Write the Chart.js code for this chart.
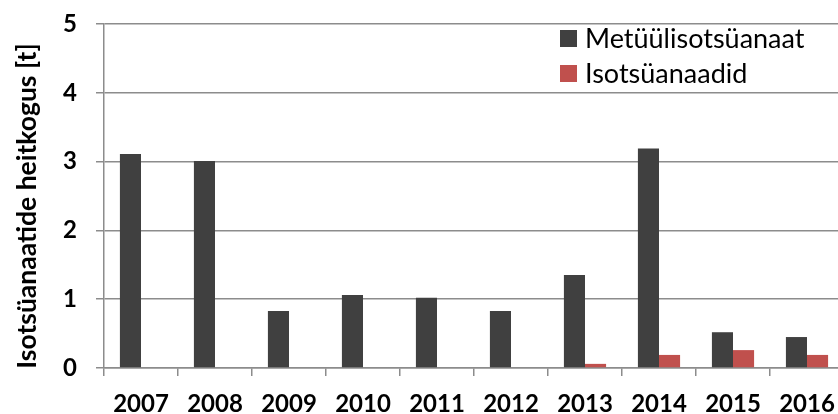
<!DOCTYPE html>
<html>
<head>
<meta charset="utf-8">
<script src="https://cdn.jsdelivr.net/npm/chart.js@4.4.0/dist/chart.umd.min.js"></script>
<style>
  html, body { margin: 0; padding: 0; background: #fff; overflow: hidden; }
  #wrap { width: 846px; height: 414px; position: relative; }
</style>
</head>
<body>
<div id="wrap"><canvas id="c" width="846" height="414"></canvas></div>
<script>
// Annual isocyanate emissions, tonnes
const years = ['2007', '2008', '2009', '2010', '2011', '2012', '2013', '2014', '2015', '2016'];
const metyylisotsyanaat = [3.11, 3.01, 0.83, 1.06, 1.02, 0.83, 1.35, 3.19, 0.52, 0.45];
const isotsyanaadid = [0, 0, 0, 0, 0, 0, 0.06, 0.19, 0.26, 0.19];
const seriesNames = ['Metüülisotsüanaat', 'Isotsüanaadid'];
const yTicks = [0, 1, 2, 3, 4, 5];
const yTitle = 'Isotsüanaatide heitkogus [t]';

const GRID = '#8c8c8c';
const FONT = 'Lato, "Open Sans", sans-serif';

// Legend drawn inside the plot area, top right, stacked vertically
const insideLegend = {
  id: 'insideLegend',
  afterDraw(chart) {
    const ctx = chart.ctx;
    ctx.save();
    ctx.font = '27px ' + FONT;
    ctx.textBaseline = 'middle';
    ctx.textAlign = 'left';
    chart.data.datasets.forEach((ds, i) => {
      const cy = 38.5 + i * 35;
      ctx.fillStyle = ds.backgroundColor;
      ctx.fillRect(560, cy - 8.5, 17, 17);
      ctx.fillStyle = '#000';
      ctx.fillText(ds.label, 585, cy + 1);
    });
    ctx.restore();
  }
};

// Rotated y-axis title
const yTitlePlugin = {
  id: 'yTitlePlugin',
  afterDraw(chart) {
    const ctx = chart.ctx;
    ctx.save();
    ctx.translate(27, 206);
    ctx.rotate(-Math.PI / 2);
    ctx.font = 'bold 26.5px ' + FONT;
    ctx.fillStyle = '#000';
    ctx.textAlign = 'center';
    ctx.textBaseline = 'middle';
    ctx.fillText(yTitle, 0, 0);
    ctx.restore();
  }
};

new Chart(document.getElementById('c'), {
  type: 'bar',
  data: {
    labels: years,
    datasets: [
      { label: seriesNames[0], data: metyylisotsyanaat, backgroundColor: '#404040' },
      { label: seriesNames[1], data: isotsyanaadid, backgroundColor: '#C0504D' }
    ]
  },
  options: {
    responsive: false,
    animation: false,
    layout: { padding: { top: 24, right: 2, left: 0, bottom: 0 } },
    datasets: { bar: { categoryPercentage: 0.57, barPercentage: 1.0 } },
    plugins: { legend: { display: false }, tooltip: { enabled: false } },
    scales: {
      x: {
        offset: true,
        grid: { display: true, drawOnChartArea: false, offset: true, color: GRID, lineWidth: 1.5, tickLength: 8 },
        border: { color: GRID, width: 1.5 },
        ticks: { color: '#000', font: { family: FONT, size: 24, weight: 'bold' }, padding: 14, maxRotation: 0 },
        afterFit(scale) { scale.height = 46; scale.paddingLeft = 0; scale.paddingRight = 0; }
      },
      y: {
        min: 0, max: 5,
        afterBuildTicks(scale) { scale.ticks = yTicks.map(v => ({ value: v })); },
        grid: { color: GRID, lineWidth: 1.5, tickLength: 8 },
        border: { color: GRID, width: 1.5 },
        ticks: { color: '#000', font: { family: FONT, size: 24, weight: 'bold' }, padding: 19 },
        afterFit(scale) { scale.width = 104; scale.paddingTop = 0; scale.paddingBottom = 0; }
      }
    }
  },
  plugins: [insideLegend, yTitlePlugin]
});
</script>
</body>
</html>
